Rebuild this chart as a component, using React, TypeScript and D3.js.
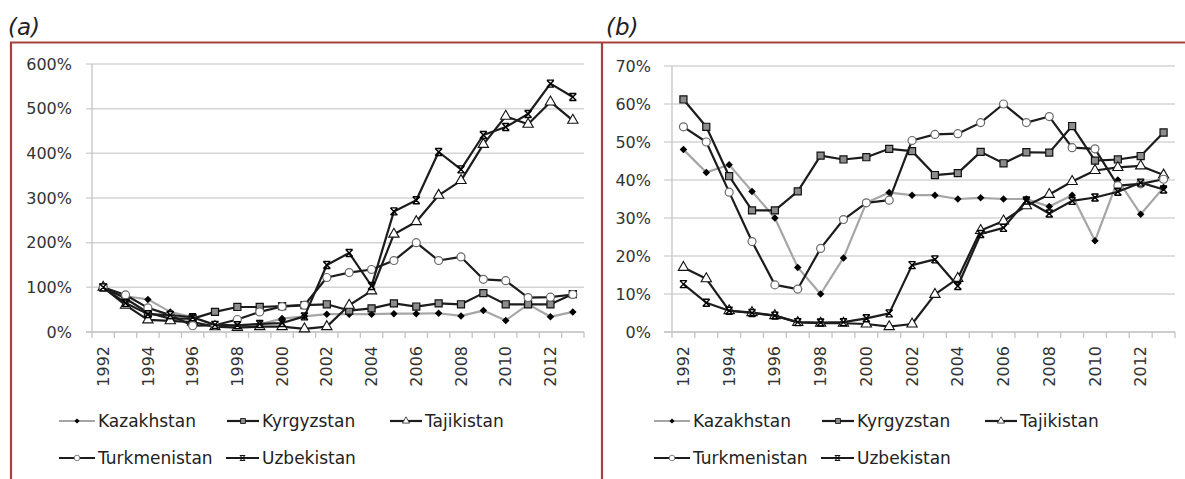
import React from 'react'
import * as d3 from 'd3'

const years = ['1992', '1993', '1994', '1995', '1996', '1997', '1998', '1999', '2000', '2001', '2002',
  '2003', '2004', '2005', '2006', '2007', '2008', '2009', '2010', '2011', '2012', '2013']
const countries = ['Kazakhstan', 'Kyrgyzstan', 'Tajikistan', 'Turkmenistan', 'Uzbekistan']

// (a) index, 1992 = 100%
const kazakhstanA = [100, 80, 73, 45, 33, 15, 10, 17, 30, 35, 40, 40, 40, 41, 41, 42, 36, 48, 26, 62, 34, 45]
const kyrgyzstanA = [100, 75, 43, 30, 30, 45, 56, 56, 58, 60, 62, 48, 53, 64, 57, 64, 62, 87, 62, 62, 62, 85]
const tajikistanA = [100, 60, 27, 25, 22, 12, 10, 12, 12, 7, 12, 60, 92, 219, 247, 306, 339, 420, 483, 465, 515, 474]
const turkmenistanA = [100, 83, 54, 38, 14, 15, 28, 45, 57, 60, 122, 133, 140, 160, 200, 160, 168, 118, 115, 77, 78, 84]
const uzbekistanA = [100, 65, 40, 38, 33, 16, 15, 18, 20, 35, 150, 177, 103, 270, 295, 403, 364, 441, 459, 488, 556, 526]

// (b) share, %
const kazakhstanB = [48, 42, 44, 37, 30, 17, 10, 19.5, 34, 36.7, 36, 36, 35, 35.3, 35, 35, 33, 36, 24, 40, 31, 38]
const kyrgyzstanB = [61.2, 54, 41, 32, 32, 37, 46.4, 45.4, 46, 48.2, 47.6, 41.3, 41.8, 47.4, 44.4, 47.3, 47.2, 54.2, 45.1, 45.4, 46.3, 52.5]
const tajikistanB = [17, 14, 5.6, 5.1, 4.3, 2.5, 2.3, 2.3, 2.1, 1.4, 2.1, 9.9, 14.1, 26.7, 29.2, 33.2, 36.2, 39.6, 42.5, 43.3, 43.7, 41.3]
const turkmenistanB = [54, 50, 36.8, 23.8, 12.4, 11.3, 22, 29.6, 34, 34.7, 50.4, 52, 52.2, 55.1, 60, 55.1, 56.7, 48.5, 48.2, 38.5, 39, 40.2]
const uzbekistanB = [12.6, 7.7, 5.6, 5, 4.3, 2.6, 2.5, 2.6, 3.6, 4.9, 17.6, 19.1, 12.1, 25.8, 27.4, 34.6, 31.2, 34.5, 35.4, 36.9, 39.3, 37.5]

const yTicksA = [0, 100, 200, 300, 400, 500, 600]
const yTicksB = [0, 10, 20, 30, 40, 50, 60, 70]

const FONT = '"DejaVu Sans", sans-serif'
const RED = '#a8403d'
const markers = ['diamond', 'square', 'triangle', 'circle', 'star']
const lineColors = ['#a6a6a6', '#1c1c1c', '#1c1c1c', '#1c1c1c', '#1c1c1c']

const Marker = ({ kind, x, y, s = 1 }) => {
  const t = `translate(${x},${y}) scale(${s})`
  if (kind === 'diamond')
    return <path transform={`${t} rotate(45)`} d={d3.symbol(d3.symbolSquare, 28)()} fill='#000' />
  if (kind === 'square')
    return <path transform={t} d={d3.symbol(d3.symbolSquare, 50)()} fill='#8c8c8c' stroke='#111' strokeWidth={1.2} />
  if (kind === 'triangle')
    return <path transform={t} d={d3.symbol(d3.symbolTriangle, 46)()} fill='#fff' stroke='#111' strokeWidth={1.1} />
  if (kind === 'circle')
    return <path transform={t} d={d3.symbol(d3.symbolCircle, 50)()} fill='#fff' stroke='#6a6a6a' strokeWidth={1.2} />
  return <path transform={t} d='M-3.5,-3.5L3.5,3.5M3.5,-3.5L-3.5,3.5M-3.5,-3.5H3.5M-3.5,3.5H3.5' stroke='#000' strokeWidth={1.4} fill='none' />
}

const Panel = ({ tag, tagX, series, yTicks, yMax, x0, x1, yTop, yBottom, labelX, gridX, legendX }) => {
  const x = d3.scaleBand().domain(years).range([x0, x1]).padding(0)
  const y = d3.scaleLinear().domain([0, yMax]).range([yBottom, yTop])
  const cx = (i) => x(years[i]) + x.bandwidth() / 2
  const line = d3.line().x((d, i) => cx(i)).y((d) => y(d))
  const bounds = years.map((yr) => x(yr)).concat([x1])
  const legendItems = [
    { i: 0, lx: 0, tx: 39, row: 0 },
    { i: 1, lx: 168, tx: 203, row: 0 },
    { i: 2, lx: 331, tx: 366, row: 0 },
    { i: 3, lx: 0, tx: 39, row: 1 },
    { i: 4, lx: 167, tx: 203, row: 1 },
  ]
  const rows = [421, 458]
  return (
    <g fontFamily={FONT}>
      <text x={tagX} y={35} fontSize={23} fontStyle='italic' fill='#222'>{tag}</text>
      {yTicks.map((t) => (
        <g key={t}>
          <line x1={gridX} x2={x1} y1={y(t)} y2={y(t)} stroke={t === 0 ? '#bdbdbd' : '#d4d4d4'} strokeWidth={1.5} />
          <text x={labelX} y={y(t)} dy='0.35em' textAnchor='end' fontSize={16} fill='#333'>{t + '%'}</text>
        </g>
      ))}
      <line x1={x0} x2={x0} y1={yTop} y2={yBottom} stroke='#c4c4c4' strokeWidth={1.3} />
      {bounds.map((b, i) => (
        <line key={i} x1={b} x2={b} y1={yBottom} y2={yBottom + 6} stroke='#c4c4c4' strokeWidth={1.3} />
      ))}
      {years.map((yr, i) =>
        i % 2 === 0 ? (
          <text key={yr} transform={`translate(${cx(i)},${yBottom + 14}) rotate(-90)`} textAnchor='end'
            dy='0.35em' fontSize={16} fill='#333'>{yr}</text>
        ) : null
      )}
      {series.map((vals, k) => (
        <g key={k}>
          <path d={line(vals)} fill='none' stroke={lineColors[k]} strokeWidth={2.2} strokeLinejoin='round' />
          {vals.map((v, i) => <Marker key={i} kind={markers[k]} x={cx(i)} y={y(v)} />)}
        </g>
      ))}
      {legendItems.map((l) => (
        <g key={l.i}>
          <line x1={legendX + l.lx} x2={legendX + l.tx - 3} y1={rows[l.row]} y2={rows[l.row]}
            stroke={lineColors[l.i]} strokeWidth={2.2} />
          <Marker kind={markers[l.i]} x={legendX + (l.lx + l.tx - 3) / 2} y={rows[l.row]} s={0.7} />
          <text x={legendX + l.tx} y={rows[l.row]} dy='0.35em' fontSize={17} fill='#222'>{countries[l.i]}</text>
        </g>
      ))}
    </g>
  )
}

export default function App() {
  return (
    <svg width={1185} height={479} style={{ position: 'absolute', left: 0, top: 0, background: '#fff' }}>
      <rect width={1185} height={479} fill='#fff' />
      <Panel tag='(a)' tagX={8} series={[kazakhstanA, kyrgyzstanA, tajikistanA, turkmenistanA, uzbekistanA]}
        yTicks={yTicksA} yMax={600} x0={92} x1={584} yTop={64} yBottom={332} labelX={72} gridX={86} legendX={59} />
      <Panel tag='(b)' tagX={606} series={[kazakhstanB, kyrgyzstanB, tajikistanB, turkmenistanB, uzbekistanB]}
        yTicks={yTicksB} yMax={70} x0={672} x1={1175} yTop={66} yBottom={332} labelX={651} gridX={664} legendX={654} />
      <path d='M11,479V42.5H1185M602,42.5V479' fill='none' stroke={RED} strokeWidth={2.2} />
    </svg>
  )
}
